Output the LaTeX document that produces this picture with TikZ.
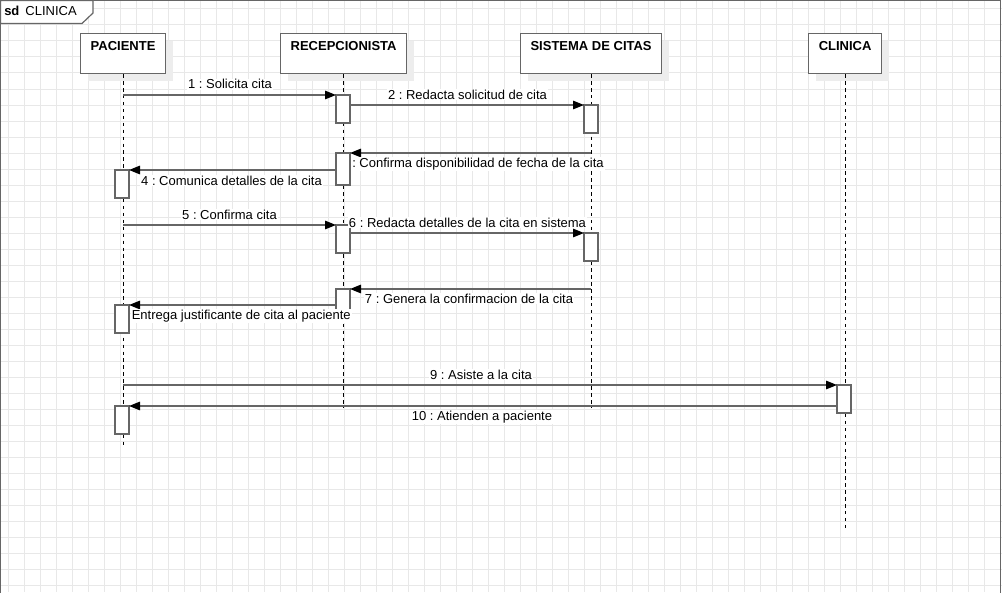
\documentclass[tikz,border=0pt]{standalone}
\usepackage{fontspec}
\setmainfont{Liberation Sans}
\usetikzlibrary{arrows.meta,shadows}
\frenchspacing

\tikzset{
  rejilla/.style={draw=black!9, line width=0.75pt},
  marco/.style={draw=black!60, line width=0.9pt},
  cabeza/.style={draw=black!60, fill=white, anchor=north west, font=\fontsize{9.75}{12}\selectfont\bfseries,
    inner xsep=0pt, inner ysep=0pt, text height=12.75pt, text depth=17.25pt, line width=0.9pt,
    general shadow={fill=black!7, draw=none, shadow xshift=5.25pt, shadow yshift=-5.25pt}},
  activ/.style={draw=black!60, fill=white, anchor=north, minimum width=10.5pt, minimum height=21pt,
    inner sep=0pt, outer sep=0pt, line width=0.9pt},
  vida/.style={draw=black, line width=0.75pt, dash pattern=on 2.6pt off 2.6pt},
  msg/.style={draw=black!60, line width=0.9pt, -{Triangle[length=8.25pt,width=6.4pt,color=black]}},
  etq/.style={fill=white, inner sep=0.75pt, anchor=base}
}

\begin{document}
\begin{tikzpicture}[x=0.75pt,y=-0.75pt,font=\fontsize{9.75}{12}\selectfont]
\useasboundingbox (0,0) rectangle (1002,592);

% rejilla de fondo
\foreach \gx in {8,24,...,1000} \draw[rejilla] (\gx,0) -- (\gx,592);
\foreach \gy in {9,25,...,585} \draw[rejilla] (0,\gy) -- (1002,\gy);

% marco sd
\draw[marco] (0.5,600) -- (0.5,0.5) -- (1000.5,0.5) -- (1000.5,600);
\draw[marco, fill=white] (0.5,0.5) -- (93,0.5) -- (93,13) -- (82,23.5) -- (0.5,23.5) -- cycle;
\node[anchor=base west, inner sep=0pt] (sd) at (4,16) {\textbf{sd}\hspace{4.5pt}CLINICA};

% lineas de vida
\node[cabeza, minimum width=63.75pt] (pac) at (80,33) {PACIENTE};
\node[cabeza, minimum width=94.5pt] (rec) at (280,33) {RECEPCIONISTA};
\node[cabeza, minimum width=105.75pt] (sis) at (520,33) {SISTEMA DE CITAS};
\node[cabeza, minimum width=54.75pt] (cli) at (808,33) {CLINICA};

\draw[vida] (pac.south) -- ++(0,374);
\draw[vida] (rec.south) -- ++(0,334);
\draw[vida] (sis.south) -- ++(0,334);
\draw[vida] (cli.south) -- ++(0,454);

% activaciones
\node[activ] (a1) at (343,95) {};
\node[activ] (a2) at (591,105) {};
\node[activ, minimum height=24pt] (a3) at (343,153) {};
\node[activ] (a4) at (122,170) {};
\node[activ] (a5) at (343,225) {};
\node[activ] (a6) at (591,233) {};
\node[activ] (a7) at (343,289) {};
\node[activ] (a8) at (122,305) {};
\node[activ] (a9) at (844,385) {};
\node[activ] (a10) at (122,406) {};

% mensajes
\draw[msg] (pac.south |- a1.north) -- (a1.north west);
\draw[msg] (a1.east |- a2.north) -- (a2.north west);
\draw[msg] (sis.south |- a3.north) -- (a3.north east);
\draw[msg] (a3.west |- a4.north) -- (a4.north east);
\draw[msg] (pac.south |- a5.north) -- (a5.north west);
\draw[msg] (a5.east |- a6.north) -- (a6.north west);
\draw[msg] (sis.south |- a7.north) -- (a7.north east);
\draw[msg] (a7.west |- a8.north) -- (a8.north east);
\draw[msg] (pac.south |- a9.north) -- (a9.north west);
\draw[msg] (a9.west |- a10.north) -- (a10.north east);

\node[etq] (t1) at (230,89) {1 : Solicita cita};
\node[etq] (t2) at (467.5,99) {2 : Redacta solicitud de cita};
\node[etq, anchor=base west] (t3) at (351,167) {: Confirma disponibilidad de fecha de la cita};
\node[etq] (t4) at (231.5,185) {4 : Comunica detalles de la cita};
\node[etq] (t5) at (229.5,219) {5 : Confirma cita};
\node[etq] (t6) at (467.5,227) {6 : Redacta detalles de la cita en sistema};
\node[etq] (t7) at (469,303) {7 : Genera la confirmacion de la cita};
\node[etq, anchor=base west] (t8) at (130.5,319) {Entrega justificante de cita al paciente};
\node[etq] (t9) at (481,379) {9 : Asiste a la cita};
\node[etq] (t10) at (482,420) {10 : Atienden a paciente};
\end{tikzpicture}
\end{document}
